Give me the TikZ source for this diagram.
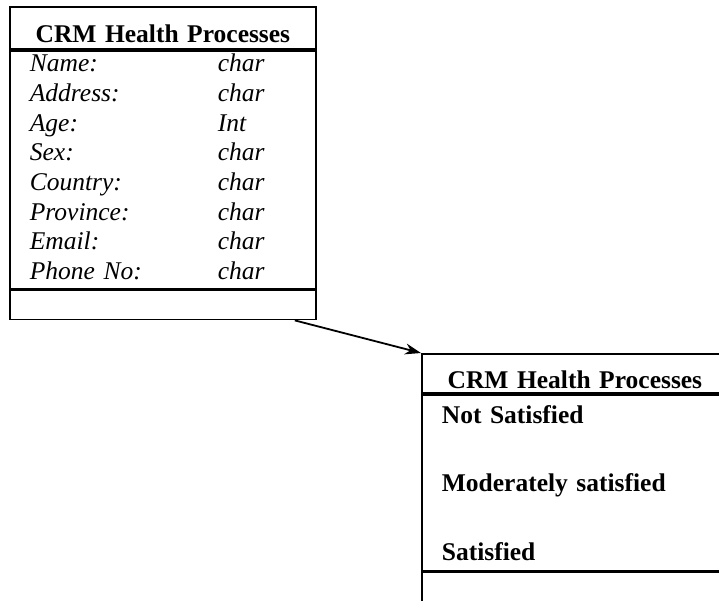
\documentclass[tikz,border=0pt]{standalone}
\usepackage{fontspec}
\setmainfont{Liberation Serif}
\usetikzlibrary{positioning,arrows.meta}

\begin{document}
\begin{tikzpicture}[x=1pt,y=1pt,line width=1.8pt,
    part/.style={draw,
        minimum width=306pt,
        text width=266pt,
        inner xsep=20pt,
        inner ysep=0pt,
        align=left,
        font=\fontsize{25.5}{29.7}\selectfont},
    title/.style={part,
        align=center,
        text height=30pt,
        text depth=0pt,
        font=\fontsize{25.5}{29.7}\selectfont\bfseries}]

\clip (0,0) rectangle (719,600);

% first class: the record
\node[title,
    anchor=north west,
    minimum height=42pt
] (class1head) at (9,594) { CRM Health Processes };

\node[part,
    below=0pt of class1head,
    minimum height=238pt
] (class1attr) {\itshape
  \begin{tabular}{@{}p{188pt}@{}l@{}}
    Name:      & char\\
    Address:   & char\\
    Age:       & Int\\
    Sex:       & char\\
    Country:   & char\\
    Province:  & char\\
    Email:     & char\\
    Phone No:  & char
  \end{tabular}};

\node[part,
    below=0pt of class1attr,
    minimum height=29pt
] (class1foot) {};

% second class: the rating
\node[title,
    anchor=north west,
    minimum height=39pt
] (class2head) at (421,247) { CRM Health Processes };

\node[part,
    below=0pt of class2head,
    minimum height=176pt,
    font=\fontsize{25.5}{29.7}\selectfont\bfseries
] (class2attr) { Not Satisfied\\[38.8pt]
  Moderately satisfied\\[38.8pt]
  Satisfied };

\node[part,
    below=0pt of class2attr,
    minimum height=35pt
] (class2foot) {};

\draw[-{Stealth[length=16pt,width=11pt]}] ([xshift=-22pt]class1foot.south east) -- (class2head.north west);

\end{tikzpicture}
\end{document}
